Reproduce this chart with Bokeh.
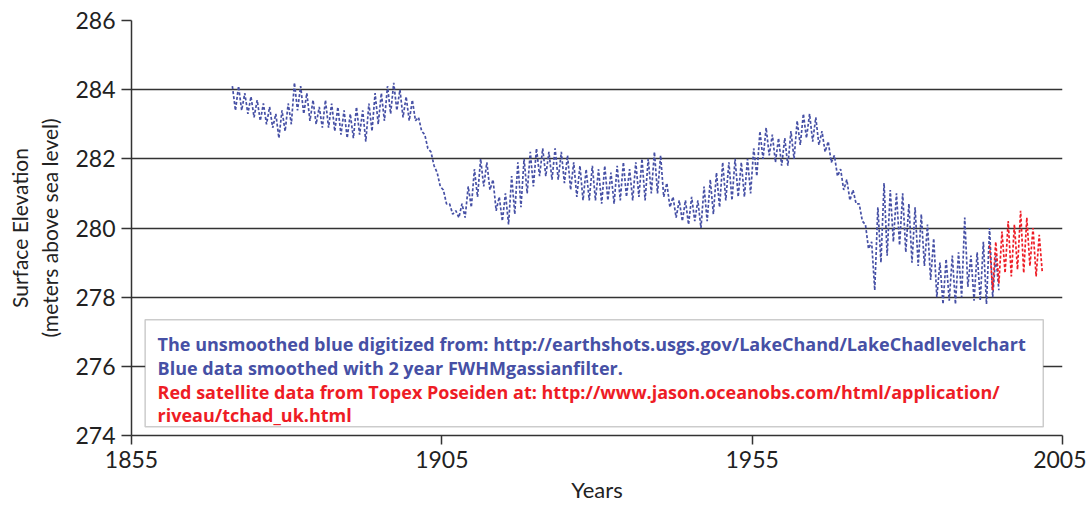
from bokeh.plotting import figure
from bokeh.models import Range1d, FixedTicker, BoxAnnotation, Label
from bokeh.embed import file_html
from bokeh.resources import INLINE

# ---------------- data ----------------
blue_years = list(range(1871, 1995))
blue_high = [
    284.1, 284.1, 283.9, 283.8, 283.7, 283.6, 283.5, 283.3, 283.4, 283.6,   # 1871-1880
    284.2, 284.1, 283.9, 283.7, 283.5, 283.7, 283.6, 283.5, 283.4, 283.3,   # 1881-1890
    283.5, 283.4, 283.6, 283.9, 283.9, 284.1, 284.2, 284.0, 283.8, 283.7,   # 1891-1900
    283.2, 282.7, 282.2, 281.6, 281.1, 280.7, 280.5, 280.7, 281.2, 281.7,   # 1901-1910
    282.0, 281.9, 281.4, 280.9, 281.0, 281.5, 281.9, 282.0, 282.2, 282.3,   # 1911-1920
    282.3, 282.2, 282.3, 282.2, 282.1, 281.9, 281.8, 281.7, 281.8, 281.7,   # 1921-1930
    281.8, 281.6, 281.8, 281.9, 281.7, 281.9, 282.0, 282.0, 282.2, 282.1,   # 1931-1940
    281.3, 280.9, 280.8, 280.8, 280.9, 280.8, 281.2, 281.4, 281.6, 281.9,   # 1941-1950
    281.9, 282.0, 281.9, 282.0, 282.3, 282.8, 282.9, 282.7, 282.6, 282.6,   # 1951-1960
    282.8, 283.1, 283.3, 283.3, 283.2, 282.8, 282.5, 282.1, 281.7, 281.4,   # 1961-1970
    281.1, 280.7, 280.1, 279.6, 280.6, 281.3, 281.1, 281.0, 281.0, 280.7,   # 1971-1980
    280.6, 280.4, 280.1, 279.7, 279.0, 279.1, 279.2, 279.3, 280.3, 279.2,   # 1981-1990
    279.3, 279.6, 280.0, 279.2,                                             # 1991-1994
]
blue_low = [
    283.4, 283.4, 283.3, 283.2, 283.1, 283.0, 282.9, 282.6, 282.8, 283.0,
    283.4, 283.3, 283.1, 283.0, 282.9, 282.9, 282.8, 282.7, 282.6, 282.6,
    282.7, 282.5, 282.8, 283.0, 283.1, 283.3, 283.4, 283.2, 283.1, 283.1,
    282.8, 282.3, 281.8, 281.2, 280.7, 280.4, 280.3, 280.3, 280.6, 280.9,
    281.2, 281.1, 280.5, 280.2, 280.1, 280.4, 280.6, 281.0, 281.2, 281.5,
    281.5, 281.4, 281.4, 281.3, 281.1, 280.9, 280.8, 280.8, 280.8, 280.7,
    280.8, 280.7, 280.8, 280.9, 280.8, 280.9, 280.8, 281.0, 281.0, 280.9,
    280.6, 280.3, 280.2, 280.1, 280.2, 280.0, 280.2, 280.4, 280.6, 280.8,
    280.8, 280.9, 280.9, 281.0, 281.5, 282.0, 282.1, 281.9, 281.8, 281.8,
    282.0, 282.4, 282.6, 282.5, 282.4, 282.2, 281.9, 281.5, 281.1, 280.8,
    280.7, 280.2, 279.4, 278.2, 279.0, 279.2, 279.6, 279.5, 279.3, 279.0,
    278.9, 278.9, 278.5, 278.0, 277.8, 277.9, 277.8, 278.0, 278.3, 277.9,
    277.9, 277.8, 278.0, 278.2,
]

red_years = list(range(1993, 2002))
red_high = [279.5, 279.6, 279.9, 280.2, 280.1, 280.5, 280.3, 280.0, 279.8]
red_low = [278.2, 278.4, 278.7, 278.6, 278.8, 278.7, 278.9, 278.6, 278.7]

x_ticks = [1855, 1905, 1955, 2005]
y_ticks = [274, 276, 278, 280, 282, 284, 286]

note_lines = [
    "The unsmoothed blue digitized from: http://earthshots.usgs.gov/LakeChand/LakeChadlevelchart",
    "Blue data smoothed with 2 year FWHMgassianfilter.",
    "Red satellite data from Topex Poseiden at: http://www.jason.oceanobs.com/html/application/",
    "riveau/tchad_uk.html",
]

BLUE = "#4650a5"
RED = "#ee1c25"
AX = "#333333"
FONT = "Lato"
NOTE_FONT = "Open Sans"


def seasonal(years, hi, lo):
    xs, ys = [], []
    for yr, h, l in zip(years, hi, lo):
        xs += [yr + 0.25, yr + 0.75]
        ys += [h, l]
    return xs, ys


bx, by = seasonal(blue_years, blue_high, blue_low)
rx, ry = seasonal(red_years, red_high, red_low)

p = figure(width=1086, height=505, output_backend="svg", toolbar_location=None,
           x_range=Range1d(1855, 2005), y_range=Range1d(274, 286),
           min_border_left=131, min_border_right=24, min_border_top=20, min_border_bottom=60)
p.outline_line_color = None
p.background_fill_color = "white"

p.line(bx, by, line_color=BLUE, line_width=1.7, line_dash="3 2")
p.line(rx, ry, line_color=RED, line_width=1.7, line_dash="3 2")

# axes
p.xaxis.ticker = FixedTicker(ticks=x_ticks)
p.yaxis.ticker = FixedTicker(ticks=y_ticks)
for ax in (p.xaxis[0], p.yaxis[0]):
    ax.axis_line_color = AX
    ax.axis_line_width = 1.5
    ax.major_tick_line_color = AX
    ax.major_tick_line_width = 1.5
    ax.major_tick_in = 0
    ax.major_tick_out = 10
    ax.minor_tick_line_color = None
    ax.major_label_text_font = FONT
    ax.major_label_text_font_size = "23px"
    ax.major_label_text_color = "#222222"
    ax.axis_label_text_font = FONT
    ax.axis_label_text_font_style = "normal"
    ax.axis_label_text_color = "#222222"

p.xaxis.major_tick_out = 9
p.xaxis.axis_label = "Years"
p.xaxis.axis_label_text_font_size = "22px"
p.xaxis.major_label_standoff = 6
p.xaxis.axis_label_standoff = 5
p.yaxis.axis_label = "Surface Elevation\n(meters above sea level)"
p.yaxis.axis_label_text_font_size = "21px"
p.yaxis.major_label_standoff = 6
p.yaxis.axis_label_standoff = 10

p.xgrid.grid_line_color = None
p.ygrid.grid_line_color = AX
p.ygrid.grid_line_width = 1.5

# note box
p.add_layout(BoxAnnotation(left=1857.2, right=2001.9, bottom=274.25, top=277.35,
                           fill_color="white", fill_alpha=1.0,
                           line_color="#555555", line_width=1.5))
note_colors = [BLUE, BLUE, RED, RED]
note_y = [276.66, 275.94, 275.27, 274.58]
for txt, c, yy in zip(note_lines, note_colors, note_y):
    p.add_layout(Label(x=1859.2, y=yy, text=txt, text_color=c, text_font=NOTE_FONT,
                       text_font_style="bold", text_font_size="18px",
                       text_baseline="alphabetic"))

open("out.html", "w").write(file_html(p, INLINE))
